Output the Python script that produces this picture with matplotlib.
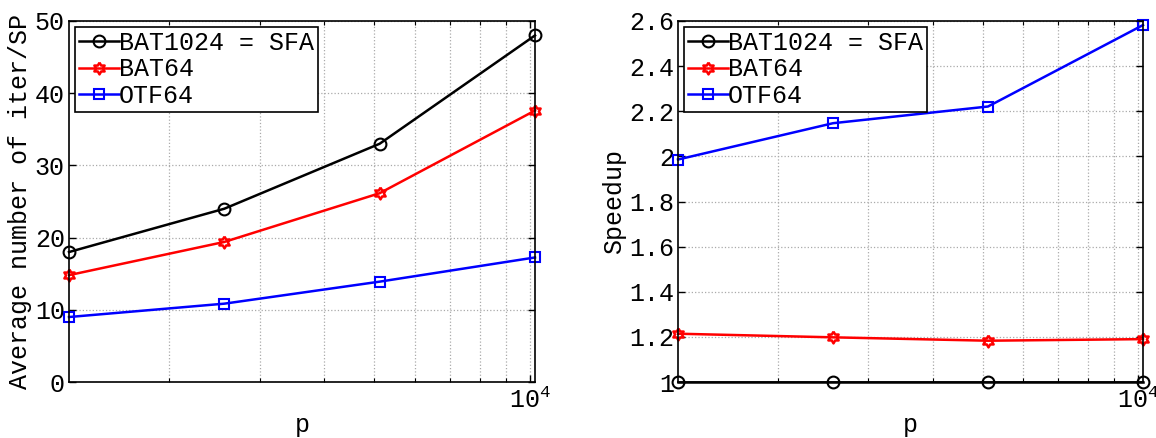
import numpy as np
import matplotlib
matplotlib.use("Agg")
import matplotlib.pyplot as plt
from matplotlib.ticker import FixedLocator, FuncFormatter, NullFormatter

plt.rcParams['font.family'] = ['Liberation Mono', 'DejaVu Sans']
plt.rcParams['mathtext.fontset'] = 'custom'
plt.rcParams['mathtext.rm'] = 'Liberation Mono'
plt.rcParams['mathtext.default'] = 'regular'

p = [1280, 2560, 5120, 10240]
labels = ["BAT1024 = SFA", "BAT64", "OTF64"]

iters_bat1024 = [18.0, 24.0, 33.0, 48.0]
iters_bat64 = [14.8, 19.4, 26.15, 37.6]
iters_otf64 = [9.0, 10.85, 13.9, 17.25]

speed_bat1024 = [1.0, 1.0, 1.0, 1.0]
speed_bat64 = [1.214, 1.198, 1.183, 1.190]
speed_otf64 = [1.986, 2.147, 2.221, 2.582]

# hexagram marker
ang_out = np.deg2rad(90 + 60 * np.arange(6))
ang_in = ang_out + np.deg2rad(30)
verts = []
for a, b in zip(ang_out, ang_in):
    verts.append((np.cos(a), np.sin(a)))
    verts.append((np.cos(b) / np.sqrt(3), np.sin(b) / np.sqrt(3)))
verts.append(verts[0])
hexagram = verts

styles = [
    dict(color='black', marker='o', mfc='none', ms=8.5, mew=1.5),
    dict(color='red', marker=hexagram, mfc='none', ms=8.5, mew=1.8),
    dict(color='blue', marker='s', mfc='none', ms=7.5, mew=1.5),
]

FS = 18
fig = plt.figure(figsize=(11.56, 4.38), dpi=100)
ax1 = fig.add_axes([69 / 1156, 56 / 438, 466 / 1156, 361 / 438])
ax2 = fig.add_axes([678 / 1156, 56 / 438, 465 / 1156, 361 / 438])

def style_axes(ax):
    ax.set_xscale('log')
    ax.set_xlim(p[0], p[-1])
    ax.xaxis.set_major_locator(FixedLocator([1e4]))
    ax.xaxis.set_major_formatter(FuncFormatter(lambda v, pos: r'$10^{4}$'))
    ax.xaxis.set_minor_locator(FixedLocator([2000, 3000, 4000, 5000, 6000, 7000, 8000, 9000]))
    ax.xaxis.set_minor_formatter(NullFormatter())
    ax.tick_params(which='both', direction='in', top=True, right=True, labelsize=FS)
    ax.tick_params(which='major', length=5, width=1)
    ax.tick_params(which='minor', length=3, width=0.8)
    ax.tick_params(axis='y', pad=3)
    ax.grid(True, which='major', linestyle=':', color='#aaaaaa', linewidth=0.9)
    ax.grid(True, which='minor', axis='x', linestyle=':', color='#aaaaaa', linewidth=0.9)
    for s in ax.spines.values():
        s.set_linewidth(1.2)
    ax.set_xlabel('p', fontsize=FS, labelpad=0)

series1 = [iters_bat1024, iters_bat64, iters_otf64]
for ys, lab, st in zip(series1, labels, styles):
    ax1.plot(p, ys, label=lab, lw=1.8, clip_on=False, **st)
style_axes(ax1)
ax1.set_ylim(0, 50)
ax1.set_yticks([0, 10, 20, 30, 40, 50])
ax1.set_ylabel('Average number of iter/SP', fontsize=FS, labelpad=2)

series2 = [speed_bat1024, speed_bat64, speed_otf64]
for ys, lab, st in zip(series2, labels, styles):
    ax2.plot(p, ys, label=lab, lw=1.8, clip_on=False, **st)
style_axes(ax2)
ax2.set_ylim(1.0, 2.6)
ax2.set_yticks([1.0, 1.2, 1.4, 1.6, 1.8, 2.0, 2.2, 2.4, 2.6])
ax2.yaxis.set_major_formatter(FuncFormatter(lambda v, pos: '%g' % round(v, 2)))
ax2.set_ylabel('Speedup', fontsize=FS, labelpad=2)

for ax in (ax1, ax2):
    leg = ax.legend(loc='upper left', fontsize=FS, frameon=True, fancybox=False,
                    edgecolor='black', framealpha=1, handlelength=1.6,
                    handletextpad=0.0, borderpad=0.15, labelspacing=0.1,
                    borderaxespad=0.25)
    leg.get_frame().set_linewidth(1.2)

fig.savefig('out.png', dpi=100)
